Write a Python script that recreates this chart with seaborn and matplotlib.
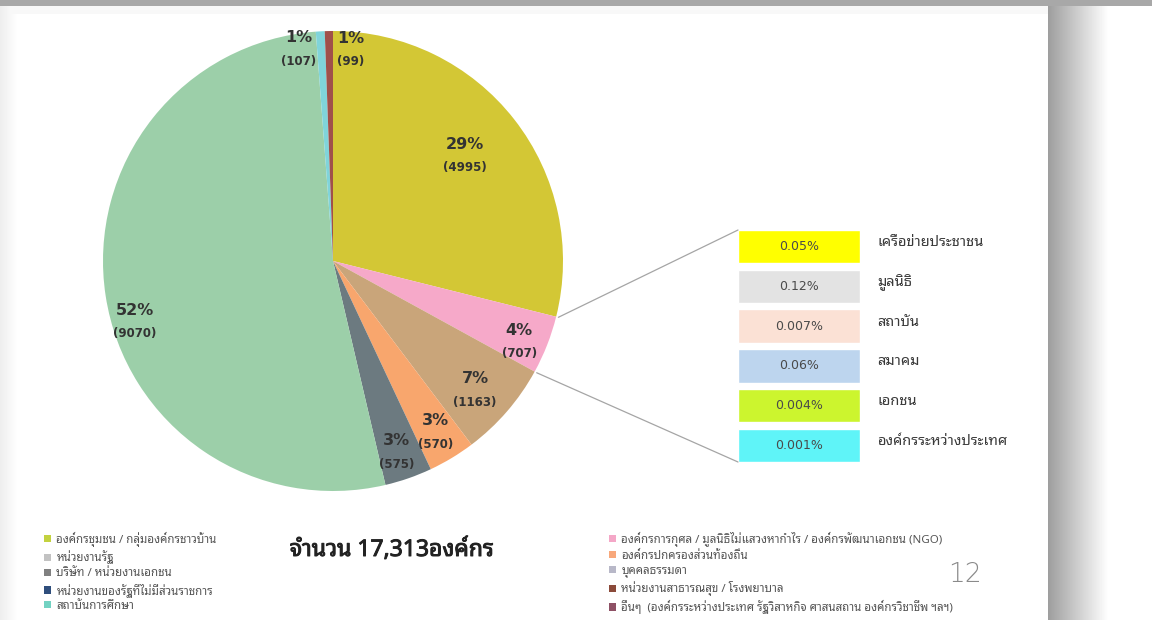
import numpy as np
import matplotlib
matplotlib.use("Agg")
import matplotlib.pyplot as plt
import matplotlib.patheffects as pe
from matplotlib import font_manager
from matplotlib.ft2font import FT2Font
from matplotlib.patches import Patch, ConnectionPatch
import seaborn as sns

# ---------- Data ----------

slice_counts = [4995, 707, 1163, 570, 575, 9070, 107, 99]
slice_colors = ["#D3C735", "#F6A9C9", "#C9A57A", "#F8A66D",
                "#6C7A80", "#9CCFA9", "#80D4DA", "#A0504A"]
total_text = "จำนวน 17,313องค์กร"

detail_pct = ["0.05%", "0.12%", "0.007%", "0.06%", "0.004%", "0.001%"]
detail_names = ["เครือข่ายประชาชน", "มูลนิธิ", "สถาบัน", "สมาคม",
                "เอกชน", "องค์กรระหว่างประเทศ"]
detail_colors = ["#FFFF00", "#E3E3E3", "#FBE1D5", "#BDD5EE", "#CCF52E", "#5FF4F8"]

legend_left = ["องค์กรชุมชน / กลุ่มองค์กรชาวบ้าน", "หน่วยงานรัฐ",
               "บริษัท / หน่วยงานเอกชน", "หน่วยงานของรัฐที่ไม่มีส่วนราชการ",
               "สถาบันการศึกษา"]
legend_left_colors = ["#C3D23F", "#C2C2C2", "#808080", "#2F4E7C", "#72D2C2"]
legend_right = ["องค์กรการกุศล / มูลนิธิไม่แสวงหากำไร / องค์กรพัฒนาเอกชน (NGO)",
                "องค์กรปกครองส่วนท้องถิ่น", "บุคคลธรรมดา",
                "หน่วยงานสาธารณสุข / โรงพยาบาล",
                "อื่นๆ  (องค์กรระหว่างประเทศ รัฐวิสาหกิจ ศาสนสถาน องค์กรวิชาชีพ ฯลฯ)"]
legend_right_colors = ["#F4A7C7", "#F8A87B", "#B8B8C8", "#8B4A3A", "#8E5165"]

page_number = "12"

# label nudges (degrees off the wedge middle, radius as share of pie radius)
label_shift = [1.0, -1.6, -1.0, 0.0, -0.6, 7.8, 6.0, -5.7]
label_radius = [0.74, 0.88, 0.83, 0.86, 0.87, 0.90, 0.94, 0.93]

# ---------- Fonts ----------

def find_thai_font():
    found = []
    for f in font_manager.fontManager.ttflist:
        try:
            cmap = FT2Font(f.fname).get_charmap()
        except Exception:
            continue
        if 0x0E01 in cmap:
            found.append(f.name)
    for name in found:
        if "Noto Sans Thai" in name or "Sarabun" in name:
            return name
    return found[0] if found else None

sns.set_theme(style="white")
thai = find_thai_font()
families = ([thai] if thai else []) + ["DejaVu Sans"]
plt.rcParams["font.family"] = families

# ---------- Figure ----------

fig = plt.figure(figsize=(11.52, 6.2), dpi=100)
fig.patch.set_facecolor("white")

# slide shadow / frame
bg = fig.add_axes([0, 0, 1, 1], zorder=-5)
W, H = 1152, 620
img = np.ones((H, W))
xs = np.arange(W)
right = np.clip((xs - 1048) / 60.0, 0, 1)
shade = np.where(xs >= 1048, 0.62 + 0.38 * right, 1.0)
left = np.clip(xs / 18.0, 0, 1)
shade = np.minimum(shade, 0.93 + 0.07 * left)
img = img * shade[None, :]
img[:6, :] = 0.66
img[6:14, :1048] = np.minimum(img[6:14, :1048], 0.97)
bg.imshow(img, cmap="gray", vmin=0, vmax=1, aspect="auto", interpolation="bilinear")
bg.set_axis_off()

# ---------- Pie ----------

ax = fig.add_axes([103 / W, 129 / H, 460 / W, 460 / H])
wedges, _ = ax.pie(slice_counts, colors=slice_colors, startangle=90,
                   counterclock=False, radius=1.0,
                   wedgeprops=dict(linewidth=0))
ax.set_xlim(-1, 1)
ax.set_ylim(-1, 1)

total = sum(slice_counts)
for w, n, shift, rr in zip(wedges, slice_counts, label_shift, label_radius):
    ang = np.deg2rad((w.theta1 + w.theta2) / 2 + shift)
    x, y = rr * np.cos(ang), rr * np.sin(ang)
    pct = f"{round(n / total * 100):.0f}%"
    ax.annotate(pct, (x, y), xytext=(0, 7), textcoords="offset points",
                ha="center", va="center", fontsize=11.5, fontweight="bold",
                color="#333333", family=["DejaVu Sans"])
    ax.annotate(f"({n})", (x, y), xytext=(0, -10), textcoords="offset points",
                ha="center", va="center", fontsize=8.5, fontweight="bold",
                color="#333333", family=["DejaVu Sans"])

# ---------- Detail table ----------

tab = fig.add_axes([738 / W, 158 / H, 122 / W, 232 / H])
sns.barplot(x=[1] * len(detail_names), y=detail_names, hue=detail_names,
            palette=detail_colors, legend=False, width=0.84, orient="h",
            ax=tab, saturation=1)
tab.set_xlim(0, 1)
tab.set_ylim(len(detail_names) - 0.58, -0.42)
tab.set_axis_off()
for i, (p, name) in enumerate(zip(detail_pct, detail_names)):
    tab.text(0.5, i, p, ha="center", va="center", fontsize=9, color="#4A4A4A",
             family=["DejaVu Sans"], zorder=5)
    tab.text(1.14, i - 0.1, name, ha="left", va="center", fontsize=10.5,
             color="#3A3A3A", clip_on=False)

# lines from the NGO wedge to the table
ngo = wedges[1]
for theta, ty in [(ngo.theta2, -0.42), (ngo.theta1, len(detail_names) - 0.58)]:
    a = np.deg2rad(theta)
    con = ConnectionPatch(xyA=(1.01 * np.cos(a), 1.01 * np.sin(a)), coordsA=ax.transData,
                          xyB=(0, ty), coordsB=tab.transData,
                          color="#A5A5A5", linewidth=0.9)
    fig.add_artist(con)

# ---------- Legends and text ----------

lh = [Patch(facecolor=c, edgecolor="none") for c in legend_left_colors]
leg1 = fig.legend(lh, legend_left, loc="upper left", bbox_to_anchor=(38 / W, 1 - 526 / H),
                  frameon=False, fontsize=8.3, handlelength=0.6, handleheight=0.6,
                  handletextpad=0.5, labelspacing=0.33, borderpad=0)
rh = [Patch(facecolor=c, edgecolor="none") for c in legend_right_colors]
leg2 = fig.legend(rh, legend_right, loc="upper left", bbox_to_anchor=(603 / W, 1 - 526 / H),
                  frameon=False, fontsize=8.3, handlelength=0.6, handleheight=0.6,
                  handletextpad=0.5, labelspacing=0.33, borderpad=0)
for t in leg1.get_texts() + leg2.get_texts():
    t.set_color("#555555")

fig.text(392 / W, 1 - 550 / H, total_text, ha="center", va="center",
         fontsize=16.5, fontweight="bold", color="#222222",
         path_effects=[pe.withStroke(linewidth=0.7, foreground="#222222")])
fig.text(965 / W, 1 - 575 / H, page_number, ha="center", va="center",
         fontsize=19, color="#8A8A8A", family=["DejaVu Sans"], fontweight="light")

fig.savefig("out.png", dpi=100, facecolor=fig.get_facecolor())
